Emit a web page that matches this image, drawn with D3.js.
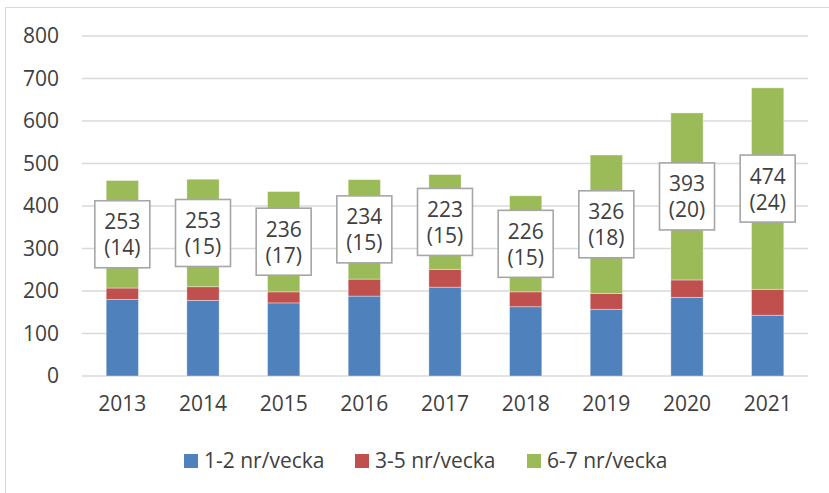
<!DOCTYPE html>
<html>
<head>
<meta charset="utf-8">
<script src="https://cdn.jsdelivr.net/npm/d3@7"></script>
<style>
  body { margin: 0; background: #fff; }
  text { font-family: "Open Sans", sans-serif; fill: #404040; }
</style>
</head>
<body>
<div id="chart"></div>
<script>
// data
var years = ["2013", "2014", "2015", "2016", "2017", "2018", "2019", "2020", "2021"];
var low = [180, 178, 172, 188, 209, 163, 157, 185, 143];     // 1-2 nr/vecka
var mid = [27, 32, 26, 40, 42, 35, 37, 41, 61];              // 3-5 nr/vecka
var high = [253, 253, 236, 234, 223, 226, 326, 393, 474];    // 6-7 nr/vecka
var counts = [14, 15, 17, 15, 15, 15, 18, 20, 24];
var yTicks = [0, 100, 200, 300, 400, 500, 600, 700, 800];
var seriesNames = ["1-2 nr/vecka", "3-5 nr/vecka", "6-7 nr/vecka"];
var colors = ["#4f81bd", "#c0504d", "#9bbb59"];

var width = 829, height = 493;
var margin = { top: 36, right: 21, bottom: 117, left: 82 };
var chartWidth = width - margin.left - margin.right;
var chartHeight = height - margin.top - margin.bottom;
var fontSize = "21px";

var svg = d3.select("#chart")
    .append("svg")
    .attr("width", width)
    .attr("height", height);

// outer frame
svg.append("rect")
    .attr("x", 5.5).attr("y", 7.5)
    .attr("width", 840).attr("height", 500)
    .attr("fill", "none")
    .attr("stroke", "#d9d9d9")
    .attr("stroke-width", 1);

var chartGroup = svg.append("g")
    .attr("transform", `translate(${margin.left}, ${margin.top})`);

var x = d3.scaleBand()
    .domain(years)
    .range([0, chartWidth])
    .paddingInner(0.6)
    .paddingOuter(0.3);

var y = d3.scaleLinear()
    .domain([0, 800])
    .range([chartHeight, 0]);

// gridlines
chartGroup.selectAll(".grid")
    .data(yTicks)
    .enter()
    .append("line")
    .attr("x1", 0)
    .attr("x2", chartWidth)
    .attr("y1", d => y(d))
    .attr("y2", d => y(d))
    .attr("stroke", "#d9d9d9")
    .attr("stroke-width", 1.7);

// y axis labels
var yAxis = d3.axisLeft(y).tickValues(yTicks).tickSize(0).tickPadding(23);
chartGroup.append("g")
    .call(yAxis)
    .call(g => g.select(".domain").remove())
    .selectAll("text")
    .style("font-size", fontSize)
    .attr("fill", "#404040");

// x axis labels
var xAxis = d3.axisBottom(x).tickSize(0).tickPadding(20);
chartGroup.append("g")
    .attr("transform", `translate(0, ${chartHeight})`)
    .call(xAxis)
    .call(g => g.select(".domain").remove())
    .selectAll("text")
    .style("font-size", fontSize)
    .attr("fill", "#404040");

// stacked bars
var rows = years.map(function(yr, i) {
  return { year: yr, low: low[i], mid: mid[i], high: high[i], count: counts[i] };
});
var stack = d3.stack().keys(["low", "mid", "high"]);
var layers = stack(rows);

chartGroup.selectAll(".layer")
    .data(layers)
    .enter()
    .append("g")
    .attr("fill", (d, i) => colors[i])
    .selectAll("rect")
    .data(d => d)
    .enter()
    .append("rect")
    .attr("x", d => x(d.data.year))
    .attr("width", x.bandwidth())
    .attr("y", d => y(d[1]))
    .attr("height", d => y(d[0]) - y(d[1]))
    .attr("stroke", "rgba(255,255,255,0.45)")
    .attr("stroke-width", 0.8);

// label boxes in the middle of the green segment
var topLayer = layers[2];
var boxW = 55, boxH = 67;
var labels = chartGroup.selectAll(".lbl")
    .data(topLayer)
    .enter()
    .append("g")
    .attr("transform", function(d) {
      var cx = x(d.data.year) + x.bandwidth() / 2;
      var cy = y((d[0] + d[1]) / 2);
      return "translate(" + cx + "," + cy + ")";
    });

labels.append("rect")
    .attr("x", -boxW / 2)
    .attr("y", -boxH / 2)
    .attr("width", boxW)
    .attr("height", boxH)
    .attr("fill", "#fff")
    .attr("stroke", "#a6a6a6")
    .attr("stroke-width", 1.6);

labels.append("text")
    .attr("text-anchor", "middle")
    .attr("y", -5)
    .style("font-size", fontSize)
    .text(d => d.data.high);

labels.append("text")
    .attr("text-anchor", "middle")
    .attr("y", 21)
    .style("font-size", fontSize)
    .text(d => "(" + d.data.count + ")");

// legend
var legendX = [184, 355, 527];
var legend = svg.selectAll(".legend")
    .data(seriesNames)
    .enter()
    .append("g")
    .attr("transform", (d, i) => "translate(" + legendX[i] + ", 454)");

legend.append("rect")
    .attr("width", 14)
    .attr("height", 14)
    .attr("fill", (d, i) => colors[i]);

legend.append("text")
    .attr("x", 20)
    .attr("y", 14)
    .style("font-size", fontSize)
    .text(d => d);
</script>
</body>
</html>
